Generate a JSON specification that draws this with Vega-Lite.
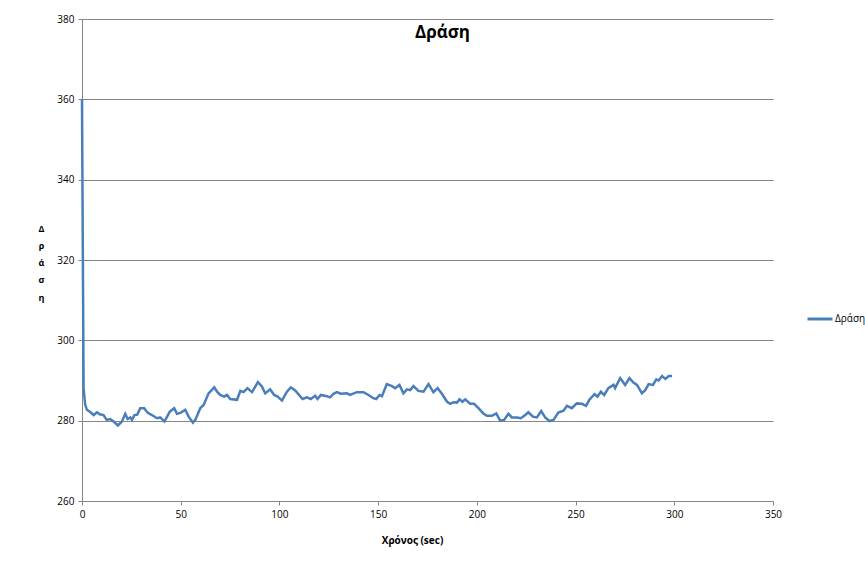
{
  "$schema": "https://vega.github.io/schema/vega-lite/v6.json",
  "width": 691,
  "height": 482,
  "autosize": {"type": "none"},
  "padding": {"left": 82, "top": 19, "right": 92, "bottom": 71},
  "background": "white",
  "config": {
    "font": "Open Sans",
    "view": {"stroke": null},
    "axis": {"labelFont": "Open Sans", "titleFont": "Open Sans", "labelColor": "#000000", "titleColor": "#000000"}
  },
  "title": {"text": "Δράση", "font": "Open Sans", "fontSize": 17, "fontWeight": "bold", "color": "#000000", "anchor": "middle", "offset": -28, "dx": 15},
  "data": {"values": [
    {"t":0,"v":360},{"t":0.8,"v":288},{"t":1.6,"v":284},{"t":2.5,"v":282.7},{"t":4,"v":282.2},{"t":5.9,"v":281.4},{"t":7.6,"v":282.1},{"t":9,"v":281.6},{"t":10.9,"v":281.4},{"t":12.5,"v":280.2},{"t":14.3,"v":280.4},{"t":16,"v":279.8},{"t":18.2,"v":278.8},{"t":20.2,"v":279.8},{"t":21.9,"v":281.7},{"t":23.1,"v":280.4},{"t":24.5,"v":280.8},{"t":25.3,"v":280.2},{"t":26.6,"v":281.4},{"t":28,"v":281.5},{"t":29.5,"v":283.1},{"t":31.5,"v":283.1},{"t":33.2,"v":282.0},{"t":35.4,"v":281.4},{"t":38,"v":280.6},{"t":39.6,"v":280.8},{"t":41.8,"v":279.8},{"t":44.4,"v":282.2},{"t":46.7,"v":283.1},{"t":48.1,"v":281.7},{"t":50.1,"v":282.0},{"t":52.3,"v":282.7},{"t":54,"v":281.0},{"t":56.2,"v":279.5},{"t":57.4,"v":280.2},{"t":59.9,"v":283.1},{"t":61.6,"v":283.9},{"t":64.1,"v":286.8},{"t":67,"v":288.3},{"t":68.4,"v":287.2},{"t":70,"v":286.4},{"t":72,"v":286.0},{"t":73.4,"v":286.4},{"t":75.1,"v":285.4},{"t":78.5,"v":285.2},{"t":80.2,"v":287.4},{"t":81.8,"v":287.1},{"t":83.8,"v":288.1},{"t":86.1,"v":287.1},{"t":89.1,"v":289.6},{"t":91.1,"v":288.5},{"t":92.8,"v":286.8},{"t":95.3,"v":287.8},{"t":97.3,"v":286.4},{"t":99.1,"v":286.0},{"t":101.3,"v":285.0},{"t":103.8,"v":287.2},{"t":105.8,"v":288.3},{"t":108,"v":287.5},{"t":111.7,"v":285.4},{"t":113.9,"v":285.8},{"t":115.9,"v":285.4},{"t":118.1,"v":286.2},{"t":119.3,"v":285.4},{"t":121,"v":286.4},{"t":124,"v":286.1},{"t":125.7,"v":285.8},{"t":127.4,"v":286.7},{"t":129.1,"v":287.1},{"t":131.1,"v":286.7},{"t":134.2,"v":286.8},{"t":135.8,"v":286.4},{"t":139.2,"v":287.1},{"t":142.6,"v":287.1},{"t":145.1,"v":286.4},{"t":147.6,"v":285.6},{"t":149,"v":285.4},{"t":150.7,"v":286.4},{"t":151.9,"v":286.1},{"t":154.4,"v":289.1},{"t":157,"v":288.6},{"t":158.6,"v":288.1},{"t":160.8,"v":288.9},{"t":162.8,"v":286.8},{"t":164.6,"v":287.8},{"t":166.2,"v":287.6},{"t":167.9,"v":288.6},{"t":170.4,"v":287.4},{"t":173,"v":287.2},{"t":175.5,"v":289.1},{"t":178,"v":287.1},{"t":180.1,"v":288.1},{"t":182.3,"v":286.7},{"t":184.9,"v":284.7},{"t":186.5,"v":284.2},{"t":188.2,"v":284.6},{"t":189.9,"v":284.5},{"t":191.2,"v":285.3},{"t":192.7,"v":284.7},{"t":194.1,"v":285.3},{"t":196.6,"v":284.2},{"t":198.6,"v":284.2},{"t":200.8,"v":283.1},{"t":203.3,"v":281.8},{"t":205.1,"v":281.2},{"t":207.6,"v":281.2},{"t":209.8,"v":281.8},{"t":211.8,"v":280.0},{"t":213.8,"v":280.2},{"t":216,"v":281.7},{"t":217.7,"v":280.8},{"t":220.3,"v":280.8},{"t":222.3,"v":280.6},{"t":224.5,"v":281.4},{"t":226.1,"v":282.1},{"t":228.4,"v":281.0},{"t":230.4,"v":280.8},{"t":232.6,"v":282.4},{"t":234.6,"v":280.8},{"t":236.8,"v":279.9},{"t":238.8,"v":280.2},{"t":241.3,"v":282.0},{"t":243.9,"v":282.5},{"t":245.6,"v":283.7},{"t":248.1,"v":283.1},{"t":250.6,"v":284.3},{"t":253.2,"v":284.2},{"t":255.3,"v":283.7},{"t":257,"v":285.2},{"t":259.6,"v":286.6},{"t":261.1,"v":286.0},{"t":262.8,"v":287.2},{"t":264.5,"v":286.4},{"t":266.6,"v":288.1},{"t":269.2,"v":288.9},{"t":270,"v":288.1},{"t":272.6,"v":290.6},{"t":275.1,"v":288.9},{"t":277.3,"v":290.6},{"t":279.3,"v":289.5},{"t":281.1,"v":288.9},{"t":283.6,"v":286.8},{"t":285.3,"v":287.6},{"t":287,"v":289.1},{"t":289.2,"v":288.9},{"t":290.9,"v":290.3},{"t":292.1,"v":290.0},{"t":293.8,"v":291.1},{"t":295.5,"v":290.4},{"t":297.2,"v":291.1},{"t":298.9,"v":291.1}
  ]},
  "transform": [{"calculate": "'Δράση'", "as": "s"}],
  "mark": {"type": "line", "strokeWidth": 2.5, "interpolate": "linear"},
  "encoding": {
    "x": {
      "field": "t", "type": "quantitative",
      "scale": {"domain": [0, 350], "nice": false, "zero": false},
      "axis": {
        "title": "Χρόνος (sec)", "titleFontSize": 10, "titleFontWeight": "bold", "titlePadding": 16, "titleX": 330,
        "values": [0, 50, 100, 150, 200, 250, 300, 350], "labelFontSize": 10, "labelPadding": 4,
        "grid": false, "domainColor": "#868686", "tickColor": "#868686", "tickSize": 4, "labelFlush": false
      }
    },
    "y": {
      "field": "v", "type": "quantitative",
      "scale": {"domain": [260, 380], "nice": false, "zero": false},
      "axis": {
        "title": ["Δ", "ρ", "ά", "σ", "η"], "titleAngle": 0, "titleFontSize": 9, "titleFontWeight": "bold",
        "titleLineHeight": 17.3, "titleAlign": "center", "titleBaseline": "middle", "titleX": -41, "titleY": 209,
        "values": [260, 280, 300, 320, 340, 360, 380], "labelFontSize": 10, "labelPadding": 4,
        "grid": true, "gridColor": "#868686", "gridWidth": 1, "domainColor": "#868686", "tickColor": "#868686", "tickSize": 4
      }
    },
    "color": {
      "field": "s", "type": "nominal",
      "scale": {"range": ["#4a7ebb"]},
      "legend": {"title": null, "orient": "none", "legendX": 724, "legendY": 286, "symbolType": "stroke", "symbolSize": 625, "symbolStrokeWidth": 3, "labelFontSize": 10, "labelFont": "Open Sans", "labelColor": "#000000", "labelOffset": 1}
    }
  }
}
